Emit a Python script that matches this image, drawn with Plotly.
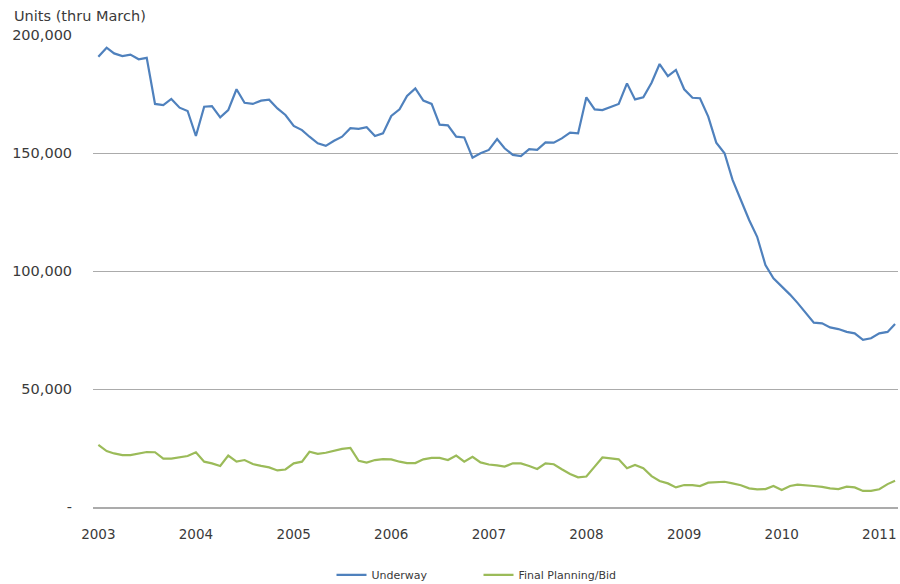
import pandas as pd
import plotly.graph_objects as go

months = pd.date_range("2003-01-01", periods=99, freq="MS")

underway = [
    190.8, 194.6, 192.2, 191.1, 191.7, 189.7, 190.3, 170.8, 170.3, 172.9, 169.2, 167.8,
    157.2, 169.6, 169.9, 165.1, 168.2, 177.0, 171.3, 170.8, 172.2, 172.6, 168.9, 166.1,
    161.5, 159.7, 156.9, 154.1, 153.0, 155.2, 156.9, 160.5, 160.2, 160.9, 157.2, 158.3,
    165.7, 168.5, 174.2, 177.4, 172.2, 170.8, 162.0, 161.7, 156.9, 156.6, 148.0, 149.9,
    151.3, 155.9, 152.0, 149.2, 148.7, 151.6, 151.3, 154.5, 154.4, 156.2, 158.6, 158.3,
    173.6, 168.5, 168.2, 169.4, 170.8, 179.5, 172.7, 173.6, 179.8, 187.7, 182.6, 185.2,
    177.0, 173.4, 173.2, 165.4, 154.4, 149.9, 138.6, 130.1, 121.6, 114.5, 102.5, 96.9,
    93.5, 90.0, 86.5, 82.0, 78.1, 77.8, 76.1, 75.4, 74.2, 73.6, 70.8, 71.5,
    73.6, 74.2, 77.5,
]

final_planning = [
    26.3, 23.7, 22.7, 22.0, 22.0, 22.7, 23.3, 23.2, 20.5, 20.5, 20.9, 21.6,
    23.2, 19.2, 18.5, 17.4, 21.8, 19.2, 19.9, 18.2, 17.4, 16.8, 15.5, 15.9,
    18.5, 19.2, 23.4, 22.5, 23.0, 23.9, 24.6, 25.0, 19.6, 18.8, 19.9, 20.3,
    20.2, 19.2, 18.6, 18.6, 20.2, 20.8, 20.8, 19.9, 21.8, 19.2, 21.3, 18.9,
    18.0, 17.6, 17.1, 18.5, 18.5, 17.4, 16.1, 18.5, 18.1, 16.0, 14.0, 12.6,
    12.9, 17.1, 21.0, 20.6, 20.2, 16.4, 17.8, 16.4, 13.1, 11.0, 10.0, 8.3,
    9.3, 9.3, 8.9, 10.3, 10.5, 10.7, 10.0, 9.2, 7.9, 7.5, 7.6, 8.9,
    7.2, 8.9, 9.5, 9.3, 8.9, 8.5, 7.9, 7.6, 8.6, 8.3, 6.8, 6.8,
    7.5, 9.7, 11.1,
]

series_names = ["Underway", "Final Planning/Bid"]
y_tick_vals = [0, 50000, 100000, 150000, 200000]
y_tick_text = ["-", "50,000", "100,000", "150,000", "200,000"]
year_ticks = [f"{y}-01-01" for y in range(2003, 2012)]
year_labels = [str(y) for y in range(2003, 2012)]

FONT = "DejaVu Sans"
TXT = "#3a3a3a"
GRID = "#ABABAB"

fig = go.Figure()
fig.add_trace(go.Scatter(
    x=months, y=[v * 1000 for v in underway], name=series_names[0],
    mode="lines", line=dict(color="#4F81BD", width=2.2),
))
fig.add_trace(go.Scatter(
    x=months, y=[v * 1000 for v in final_planning], name=series_names[1],
    mode="lines", line=dict(color="#9BBB59", width=2.2),
))

fig.update_layout(
    width=900, height=584,
    margin=dict(l=93, r=2, t=35, b=77, autoexpand=False),
    paper_bgcolor="white", plot_bgcolor="white",
    font=dict(family=FONT, size=13, color=TXT),
    showlegend=True,
    legend=dict(orientation="h", x=0.5 - 17 / 805, xanchor="center",
                y=-0.144, yanchor="middle",
                font=dict(family=FONT, size=11, color=TXT), traceorder="normal",
                itemwidth=30, entrywidth=102),
    xaxis=dict(
        range=["2002-12-12", "2011-03-12"],
        tickvals=year_ticks, ticktext=year_labels,
        showgrid=False, zeroline=False,
        showline=True, linecolor=GRID, linewidth=1.5,
        ticks="outside", ticklen=0, ticklabelstandoff=14,
        tickfont=dict(family=FONT, size=13.5, color=TXT),
    ),
    yaxis=dict(
        range=[0, 200000],
        tickvals=y_tick_vals, ticktext=y_tick_text,
        showgrid=True, gridcolor=GRID, gridwidth=1.3,
        zeroline=False, showline=False,
        ticks="outside", ticklen=0, ticklabelstandoff=17,
        tickfont=dict(family=FONT, size=14.5, color=TXT),
    ),
    annotations=[dict(
        text="Units (thru March)", xref="paper", yref="paper",
        x=-81 / 805, y=1, xanchor="left", yanchor="bottom", yshift=9,
        showarrow=False, font=dict(family=FONT, size=14.5, color=TXT),
    )],
)

fig.write_html("out.html")
